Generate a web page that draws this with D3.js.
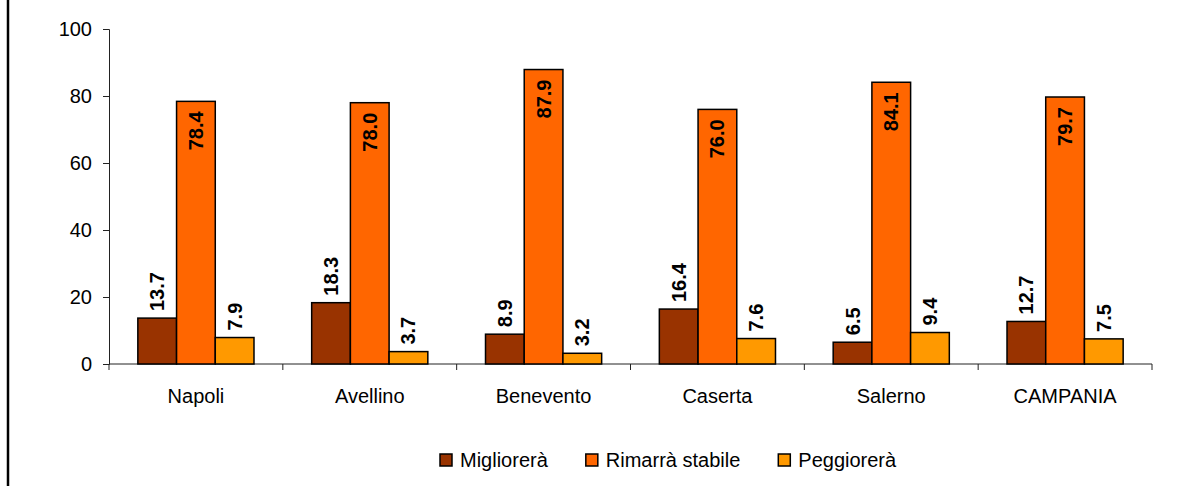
<!DOCTYPE html>
<html>
<head>
<meta charset="utf-8">
<script src="https://cdn.jsdelivr.net/npm/d3@7"></script>
<style>
  html, body { margin: 0; padding: 0; background: #fff; }
  svg { display: block; font-family: Arial, "Liberation Sans", sans-serif; }
</style>
</head>
<body>
<svg id="chart" width="1187" height="486"></svg>
<script>
// Province categories and the three outlook series (percentages)
const categories = ["Napoli", "Avellino", "Benevento", "Caserta", "Salerno", "CAMPANIA"];
const seriesNames = ["Migliorerà", "Rimarrà stabile", "Peggiorerà"];
const migliorera = [13.7, 18.3, 8.9, 16.4, 6.5, 12.7];
const rimarraStabile = [78.4, 78.0, 87.9, 76.0, 84.1, 79.7];
const peggiorera = [7.9, 3.7, 3.2, 7.6, 9.4, 7.5];
const yTicks = [0, 20, 40, 60, 80, 100];
const colors = ["#993300", "#FF6600", "#FF9900"];

const seriesValues = [migliorera, rimarraStabile, peggiorera];

const svg = d3.select("#chart");

// Frame line on the left edge
svg.append("line")
  .attr("x1", 8).attr("x2", 8).attr("y1", 0).attr("y2", 486)
  .attr("stroke", "#000").attr("stroke-width", 2.5);

const plot = { left: 109, right: 1152, top: 29, bottom: 364 };

const x0 = d3.scaleBand().domain(categories).range([plot.left, plot.right]).padding(0);
const x1 = d3.scaleBand().domain(seriesNames).range([0, x0.bandwidth()])
  .paddingInner(0).paddingOuter(0.745);
const y = d3.scaleLinear().domain([0, 100]).range([plot.bottom, plot.top]);

// Y axis
const yAxis = svg.append("g")
  .attr("transform", `translate(${plot.left},0)`)
  .call(d3.axisLeft(y).tickValues(yTicks).tickSize(6).tickPadding(11).tickFormat(d3.format("d")));
yAxis.select(".domain").attr("stroke", "#222");
yAxis.selectAll(".tick line").attr("stroke", "#222");
yAxis.selectAll("text").attr("font-size", 20).attr("fill", "#000");

// X axis with ticks at category boundaries
const xAxisG = svg.append("g").attr("transform", `translate(0,${plot.bottom})`);
xAxisG.append("line")
  .attr("x1", plot.left).attr("x2", plot.right).attr("y1", 0).attr("y2", 0)
  .attr("stroke", "#222");
const boundaries = categories.map(c => x0(c)).concat([x0(categories[categories.length - 1]) + x0.bandwidth()]);
xAxisG.selectAll("line.tk").data(boundaries).join("line").attr("class", "tk")
  .attr("x1", d => d).attr("x2", d => d).attr("y1", 0).attr("y2", 6)
  .attr("stroke", "#222");
xAxisG.selectAll("text.cat").data(categories).join("text").attr("class", "cat")
  .attr("x", d => x0(d) + x0.bandwidth() / 2)
  .attr("y", 39)
  .attr("text-anchor", "middle")
  .attr("font-size", 20)
  .text(d => d);

// Bars with rotated value labels
const groups = svg.append("g").selectAll("g")
  .data(categories).join("g")
  .attr("transform", d => `translate(${x0(d)},0)`);

groups.each(function (cat, ci) {
  const g = d3.select(this);
  seriesNames.forEach((s, si) => {
    const v = seriesValues[si][ci];
    const bx = x1(s);
    const by = y(v);
    g.append("rect")
      .attr("x", bx).attr("y", by)
      .attr("width", x1.bandwidth()).attr("height", y(0) - by)
      .attr("fill", colors[si]).attr("stroke", "#000").attr("stroke-width", 1.5);
    const cx = bx + x1.bandwidth() / 2;
    const inside = si === 1;
    const ly = inside ? by + 10 : by - 7;
    g.append("text")
      .attr("transform", `translate(${cx},${ly}) rotate(-90)`)
      .attr("text-anchor", inside ? "end" : "start")
      .attr("dominant-baseline", "central")
      .attr("font-size", 20)
      .attr("font-weight", "bold")
      .text(v.toFixed(1));
  });
});

// Legend
const legend = svg.append("g");
let lx = 440;
seriesNames.forEach((s, i) => {
  legend.append("rect")
    .attr("x", lx).attr("y", 454).attr("width", 12).attr("height", 12)
    .attr("fill", colors[i]).attr("stroke", "#000").attr("stroke-width", 1.5);
  const t = legend.append("text")
    .attr("x", lx + 20).attr("y", 467)
    .attr("font-size", 20)
    .text(s);
  lx += 20 + t.node().getComputedTextLength() + 38;
});
</script>
</body>
</html>
